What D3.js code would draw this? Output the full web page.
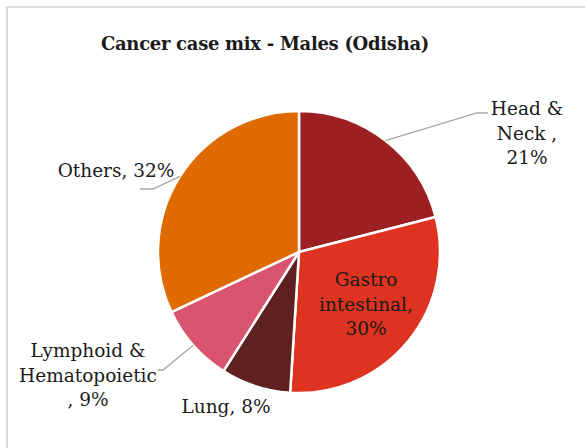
<!DOCTYPE html>
<html>
<head>
<meta charset="utf-8">
<script src="https://cdn.jsdelivr.net/npm/d3@7"></script>
<style>
  html, body { margin: 0; padding: 0; background: #fff; }
  svg text { font-family: "DejaVu Serif", Georgia, serif; fill: #1a1a1a; }
</style>
</head>
<body>
<div id="chart"></div>
<script>
// chart data
const categories = ['Head & Neck', 'Gastro intestinal', 'Lung', 'Lymphoid & Hematopoietic', 'Others'];
const values = [21, 30, 8, 9, 32];
const colors = ['#9e1f21', '#df3321', '#5e2120', '#d9546e', '#de6a00'];
// label text, line by line
const labelLines = [
    ['Head &', 'Neck ,', '21%'],
    ['Gastro', 'intestinal,', '30%'],
    ['Lung, 8%'],
    ['Lymphoid &', 'Hematopoietic', ', 9%'],
    ['Others, 32%']
];

const width = 585;
const height = 448;
const cx = 299, cy = 252, radius = 141;

// where each label block sits (x centre, first baseline) and its leader elbow
const labelPos = [
    {x: 527, y: 115, elbow: [477, 113], end: [488, 113]},
    {x: 366, y: 286},
    {x: 226, y: 413},
    {x: 88, y: 357, elbow: [163, 370], end: [158, 370]},
    {x: 116, y: 177, elbow: [153, 189], end: [140, 189]}
];
const lineHeight = 24.5;

const svg = d3.select('#chart')
    .append('svg')
    .attr('width', width)
    .attr('height', height);

// chart frame
svg.append('rect')
    .attr('x', 7)
    .attr('y', 7)
    .attr('width', width + 20)
    .attr('height', height + 20)
    .attr('fill', '#fff')
    .attr('stroke', '#d9d9d9')
    .attr('stroke-width', 2);

svg.append('text')
    .attr('x', 265)
    .attr('y', 50)
    .attr('text-anchor', 'middle')
    .style('font-size', '18px')
    .style('font-weight', 'bold')
    .style('letter-spacing', '-0.3px')
    .text('Cancer case mix - Males (Odisha)');

const pie = d3.pie().sort(null).value(d => d.value);
const arc = d3.arc().innerRadius(0).outerRadius(radius);
const edge = d3.arc().innerRadius(radius).outerRadius(radius);

const data = categories.map((c, i) => ({name: c, value: values[i], color: colors[i]}));
const arcs = pie(data);

const g = svg.append('g')
    .attr('transform', `translate(${cx},${cy})`);

g.selectAll('path.slice')
    .data(arcs)
    .enter()
    .append('path')
    .classed('slice', true)
    .attr('d', arc)
    .attr('fill', d => d.data.color)
    .attr('stroke', '#fff')
    .attr('stroke-width', 2.5)
    .attr('stroke-linejoin', 'round');

// leader lines
arcs.forEach((d, i) => {
    const p = labelPos[i];
    if (!p.elbow) return;
    const start = edge.centroid(d);
    svg.append('polyline')
        .attr('points', [
            [start[0] + cx, start[1] + cy],
            p.elbow,
            p.end
        ].map(q => q.join(',')).join(' '))
        .attr('fill', 'none')
        .attr('stroke', '#a6a6a6')
        .attr('stroke-width', 1.3);
});

// labels
arcs.forEach((d, i) => {
    const p = labelPos[i];
    const t = svg.append('text')
        .attr('text-anchor', 'middle')
        .style('font-size', '18.5px');
    labelLines[i].forEach((line, j) => {
        t.append('tspan')
            .attr('x', p.x)
            .attr('y', p.y + j * lineHeight)
            .text(line);
    });
});
</script>
</body>
</html>
